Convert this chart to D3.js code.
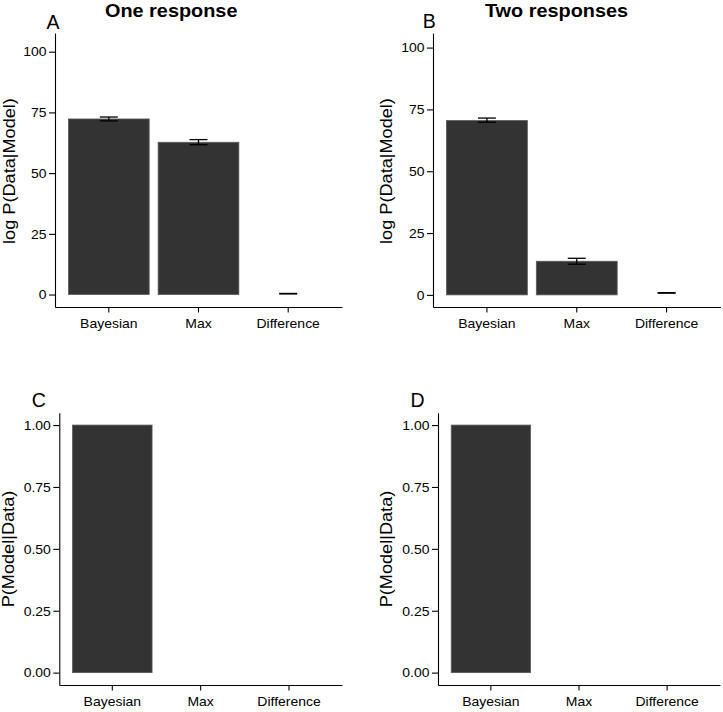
<!DOCTYPE html>
<html>
<head>
<meta charset="utf-8">
<script src="https://cdn.jsdelivr.net/npm/d3@7"></script>
<style>
  html, body { margin: 0; padding: 0; background: #fff; }
  svg { display: block; }
  text { font-family: "Liberation Sans", Arial, Helvetica, sans-serif; fill: #000; }
</style>
</head>
<body>
<svg id="chart" width="723" height="712"></svg>
<script>
// ---- data ----
const categories = ["Bayesian", "Max", "Difference"];

const oneMean = [72.3, 62.7, 0];
const oneLow  = [71.5, 61.7, 0.25];
const oneHigh = [73.1, 63.8, 0.45];

const twoMean = [70.5, 13.6, 0];
const twoLow  = [69.8, 12.4, 0.7];
const twoHigh = [71.5, 14.8, 0.9];

const postOne = [1, 0, 0];
const postTwo = [1, 0, 0];

const logTicks = [0, 25, 50, 75, 100];
const probTicks = [0, 0.25, 0.5, 0.75, 1];

const logLimitsOne = [-5.13, 107.7];
const logLimitsTwo = [-4.9, 105.9];
const probLimits = [-0.05, 1.05];

const titles = ["One response", "Two responses"];
const letters = ["A", "B", "C", "D"];
const yTitles = ["log P(Data|Model)", "P(Model|Data)"];

// ---- drawing ----
const svg = d3.select("#chart");
const TICK_STRETCH = 1.05;
const TICK_FONT = "13.3px";
const TITLE_STRETCH = 1.1;

function panel(opts) {
  const g = svg.append("g");
  const x = d3.scaleBand().domain(categories).range(opts.xRange)
    .paddingInner(0.1).paddingOuter(0.15);
  const y = d3.scaleLinear().domain(opts.yDomain).range(opts.yRange);

  // bars
  g.selectAll("rect.bar").data(categories).join("rect")
    .attr("class", "bar")
    .attr("x", d => x(d))
    .attr("width", x.bandwidth())
    .attr("y", (d, i) => Math.min(y(opts.values[i]), y(0)))
    .attr("height", (d, i) => Math.abs(y(0) - y(opts.values[i])))
    .attr("fill", "#333333")
    .attr("stroke", (d, i) => opts.values[i] === 0 ? "none" : "#5a5a5a")
    .attr("stroke-width", 0.8);

  // error bars
  if (opts.low) {
    const ew = x.bandwidth() * 0.2 / 0.9;
    categories.forEach((c, i) => {
      const cx = x(c) + x.bandwidth() / 2;
      const y1 = y(opts.low[i]), y2 = y(opts.high[i]);
      const eg = g.append("g").attr("stroke", "#000").attr("stroke-width", 1.3).attr("fill", "none");
      eg.append("line").attr("x1", cx).attr("x2", cx).attr("y1", y1).attr("y2", y2);
      eg.append("line").attr("x1", cx - ew / 2).attr("x2", cx + ew / 2).attr("y1", y1).attr("y2", y1);
      eg.append("line").attr("x1", cx - ew / 2).attr("x2", cx + ew / 2).attr("y1", y2).attr("y2", y2);
    });
  }

  // y axis
  const ya = g.append("g")
    .attr("transform", `translate(${opts.xRange[0]},0)`)
    .call(d3.axisLeft(y).tickValues(opts.yTicks).tickFormat(opts.yFormat)
      .tickSize(6).tickSizeOuter(0).tickPadding(2.5));
  ya.selectAll("text")
    .style("font-size", TICK_FONT)
    .attr("x", -8.5 / TICK_STRETCH)
    .attr("transform", `scale(${TICK_STRETCH},1)`);

  // x axis
  const xa = g.append("g")
    .attr("transform", `translate(0,${opts.yRange[0]})`)
    .call(d3.axisBottom(x).tickSize(5.5).tickSizeOuter(0));
  xa.selectAll("text")
    .style("font-size", TICK_FONT)
    .attr("y", 21.3).attr("dy", null)
    .attr("transform", `scale(${TICK_STRETCH},1)`);

  [ya, xa].forEach(a => {
    a.select(".domain").attr("stroke", "#000").attr("stroke-width", 1.1);
    a.selectAll(".tick line").attr("stroke", "#000").attr("stroke-width", 1.1);
    a.attr("font-family", null).attr("font-size", null);
  });

  // y axis title
  g.append("text")
    .attr("transform", `translate(${opts.yTitleX},${opts.yTitleY}) rotate(-90) scale(${TITLE_STRETCH},1)`)
    .attr("text-anchor", "middle")
    .style("font-size", "16.5px")
    .text(opts.yTitle);

  // panel letter
  g.append("text")
    .attr("x", opts.letterX).attr("y", opts.letterY)
    .style("font-size", "19.5px")
    .text(opts.letter);

  if (opts.title) {
    g.append("text")
      .attr("transform", `translate(${opts.titleX},16.5) scale(1.08,1)`)
      .attr("text-anchor", "middle")
      .style("font-size", "18.4px")
      .style("font-weight", "bold")
      .text(opts.title);
  }
}

const fmtLog = d3.format("d");
const fmtProb = d3.format(".2f");

panel({
  xRange: [55, 342], yRange: [307, 33], yDomain: logLimitsOne,
  values: oneMean, low: oneLow, high: oneHigh,
  yTicks: logTicks, yFormat: fmtLog,
  yTitle: yTitles[0], yTitleX: 14.7, yTitleY: 171,
  letter: letters[0], letterX: 46.5, letterY: 28.5,
  title: titles[0], titleX: 171.2
});
panel({
  xRange: [433, 720.5], yRange: [307, 33], yDomain: logLimitsTwo,
  values: twoMean, low: twoLow, high: twoHigh,
  yTicks: logTicks, yFormat: fmtLog,
  yTitle: yTitles[0], yTitleX: 392, yTitleY: 171,
  letter: letters[1], letterX: 422.8, letterY: 28.3,
  title: titles[1], titleX: 556.5
});
panel({
  xRange: [59.3, 342], yRange: [685, 412.7], yDomain: probLimits,
  values: postOne,
  yTicks: probTicks, yFormat: fmtProb,
  yTitle: yTitles[1], yTitleX: 14.4, yTitleY: 549,
  letter: letters[2], letterX: 31.7, letterY: 406.7
});
panel({
  xRange: [438, 720], yRange: [685, 412.7], yDomain: probLimits,
  values: postTwo,
  yTicks: probTicks, yFormat: fmtProb,
  yTitle: yTitles[1], yTitleX: 392, yTitleY: 549,
  letter: letters[3], letterX: 410.5, letterY: 406.7
});
</script>
</body>
</html>
